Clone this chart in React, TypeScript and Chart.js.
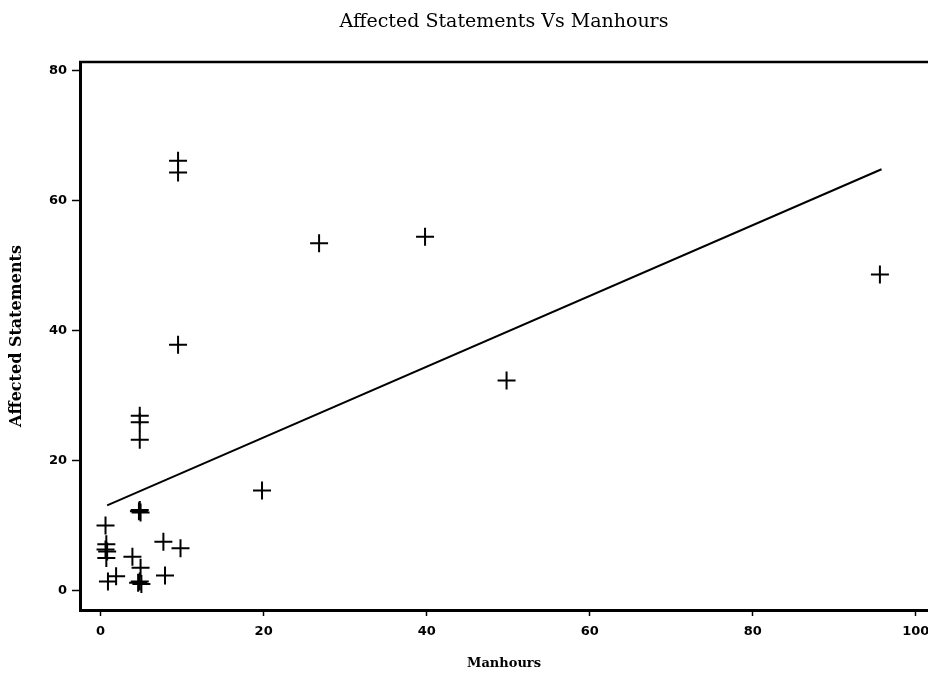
import React, { useEffect, useRef } from "react";
import { Chart, registerables } from "chart.js";

Chart.register(...registerables);

const TITLE = "Affected Statements Vs Manhours";
const X_LABEL = "Manhours";
const Y_LABEL = "Affected Statements";

const xTicks = [0, 20, 40, 60, 80, 100];
const yTicks = [0, 20, 40, 60, 80];

// Observed points (Manhours, Affected Statements)
const manhours = [
  9.5, 9.5, 9.5, 26.8, 39.8, 49.8, 95.6, 19.8,
  4.8, 4.8, 4.8, 4.7, 4.9, 4.8,
  0.6, 0.7, 0.6, 0.8, 0.7,
  3.9, 7.7, 9.8, 4.9, 7.9, 4.6, 5.0, 4.8, 0.9, 1.9,
];
const statements = [
  66.1, 64.3, 37.8, 53.4, 54.4, 32.3, 48.6, 15.4,
  26.9, 25.9, 23.2, 12.2, 12.0, 12.4,
  10.0, 7.1, 6.3, 6.0, 5.0,
  5.2, 7.5, 6.5, 3.5, 2.3, 1.2, 1.0, 1.4, 1.4, 2.2,
];

// Fitted line end points
const fitX = [0.8, 95.8];
const fitY = [13.1, 64.8];

const X_MIN = -2.53;
const X_MAX = 101.5;
const Y_MIN = -3.0;
const Y_MAX = 81.3;

const frameTop = {
  id: "frameTop",
  afterDatasetsDraw(chart: any) {
    const { ctx, chartArea } = chart;
    ctx.save();
    ctx.strokeStyle = "#000";
    ctx.lineWidth = 2.5;
    ctx.beginPath();
    ctx.moveTo(chartArea.left - 1, chartArea.top);
    ctx.lineTo(chartArea.right, chartArea.top);
    ctx.stroke();
    ctx.restore();
  },
};

export default function App() {
  const ref = useRef<HTMLCanvasElement | null>(null);

  useEffect(() => {
    if (!ref.current) return;
    const points = manhours.map((x, i) => ({ x, y: statements[i] }));
    const line = fitX.map((x, i) => ({ x, y: fitY[i] }));
    const tickFont = { family: "'DejaVu Sans', sans-serif", size: 13, weight: "bold" as const };
    const chart = new Chart(ref.current, {
      type: "scatter",
      data: {
        datasets: [
          {
            type: "scatter",
            data: points,
            pointStyle: "cross",
            pointRadius: 9,
            pointBorderWidth: 2,
            borderColor: "#000",
            backgroundColor: "#000",
            pointHoverRadius: 9,
          } as any,
          {
            type: "line",
            data: line,
            borderColor: "#000",
            borderWidth: 2,
            pointRadius: 0,
            fill: false,
            showLine: true,
          } as any,
        ],
      },
      options: {
        animation: false,
        responsive: false,
        devicePixelRatio: 1,
        layout: { padding: 0, autoPadding: false },
        plugins: {
          legend: { display: false },
          tooltip: { enabled: false },
          title: {
            display: true,
            text: TITLE,
            fullSize: false,
            color: "#000",
            font: { family: "'DejaVu Serif', serif", size: 19, weight: "normal" },
            padding: { top: 11, bottom: 28.2 },
          },
        },
        scales: {
          x: {
            type: "linear",
            min: X_MIN,
            max: X_MAX,
            afterBuildTicks: (s: any) => {
              s.ticks = xTicks.map((v) => ({ value: v }));
            },
            afterFit: (s: any) => {
              s.height = 67;
              s.paddingRight = 0;
              s.paddingLeft = 0;
              if (s._margins) s._margins.right = 0;
            },
            grid: {
              drawOnChartArea: false,
              drawTicks: true,
              tickLength: 6,
              tickWidth: 1.5,
              tickColor: "#000",
            },
            border: { display: true, color: "#000", width: 3 },
            ticks: { color: "#000", font: tickFont, padding: 8, maxRotation: 0 },
            title: {
              display: true,
              text: X_LABEL,
              color: "#000",
              font: { family: "'DejaVu Serif', serif", size: 13, weight: "bold" },
              padding: { top: 0, bottom: 6 },
            },
          },
          y: {
            type: "linear",
            min: Y_MIN,
            max: Y_MAX,
            afterBuildTicks: (s: any) => {
              s.ticks = yTicks.map((v) => ({ value: v }));
            },
            afterFit: (s: any) => {
              s.width = 80;
            },
            grid: {
              drawOnChartArea: false,
              drawTicks: true,
              tickLength: 8,
              tickWidth: 1.5,
              tickColor: "#000",
            },
            border: { display: true, color: "#000", width: 3 },
            ticks: { color: "#000", font: tickFont, padding: 5 },
            title: {
              display: true,
              text: Y_LABEL,
              color: "#000",
              font: { family: "'DejaVu Serif', serif", size: 16, weight: "bold" },
              padding: { top: 7, bottom: 0 },
            },
          },
        },
      },
      plugins: [frameTop],
    });
    return () => chart.destroy();
  }, []);

  return (
    <div style={{ position: "fixed", left: 0, top: 0, width: 928, height: 677, background: "#fff", overflow: "hidden" }}>
      <canvas ref={ref} width={928} height={677} style={{ width: 928, height: 677, display: "block" }} />
    </div>
  );
}
